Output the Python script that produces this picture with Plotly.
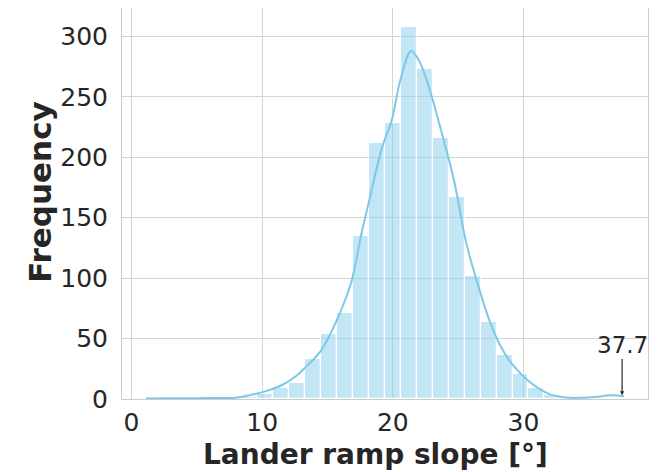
import plotly.graph_objects as go

# ---- data ----
bin_start = 1.1
bin_width = 1.22
counts = [1, 0, 0, 0, 0, 1, 2, 4, 9, 13,
          33, 54, 71, 135, 212, 228, 308, 273, 216, 167,
          102, 64, 36, 21, 9, 3, 1, 0, 0, 1]

kde_x = [1.1, 3, 5, 7, 8, 9, 10.3, 11.6, 12.6, 13.2, 14.5, 15.7, 16.8, 17.6, 18.1,
         19.2, 19.9, 20.6, 21.4, 22.0, 22.7, 23.7, 24.7, 25.6, 26.5, 27.6, 28.6,
         29.6, 30.6, 31.9, 33.2, 34.5, 35.5, 36.7, 37.7]
kde_y = [0.5, 0.6, 0.7, 0.9, 1.1, 3, 6.5, 12, 19, 25, 40, 65, 96, 137, 160,
         209, 230, 265, 288, 280, 260, 222, 180, 130, 95, 59, 37,
         23, 13, 4.5, 1.3, 1.0, 1.6, 3, 2.3]

max_value = 37.7
max_label = "37.7"

x_ticks = [0, 10, 20, 30]
y_ticks = [0, 50, 100, 150, 200, 250, 300]

x_title = "Lander ramp slope [°]"
y_title = "Frequency"

# ---- figure ----
centers = [bin_start + (i + 0.5) * bin_width for i in range(len(counts))]

fig = go.Figure()
fig.add_trace(go.Bar(
    x=centers, y=counts, width=[bin_width] * len(counts),
    marker=dict(color="rgba(135,206,235,0.5)", line=dict(color="white", width=1.2)),
    showlegend=False, hoverinfo="x+y",
))
fig.add_trace(go.Scatter(
    x=kde_x, y=kde_y, mode="lines",
    line=dict(color="rgb(125,200,232)", width=2, shape="spline", smoothing=1.0),
    showlegend=False,
))

fig.add_annotation(
    x=max_value, y=3, xref="x", yref="y",
    ax=max_value, ay=45, axref="x", ayref="y",
    text=max_label, showarrow=True,
    arrowhead=2, arrowsize=0.7, arrowwidth=1.2, arrowcolor="#262626",
    font=dict(family="DejaVu Sans", size=23, color="#262626"),
    xshift=-2,
)

# axis titles as annotations (placed like the reference)
fig.add_annotation(
    x=-0.156, y=0.53, xref="paper", yref="paper",
    text=f"<b>{y_title}</b>", showarrow=False, textangle=-90,
    xanchor="center", yanchor="middle", borderpad=0,
    font=dict(family="DejaVu Sans", size=31, color="#262626"),
)
fig.add_annotation(
    x=0.481, y=-0.143, xref="paper", yref="paper",
    text=f"<b>{x_title}</b>", showarrow=False,
    xanchor="center", yanchor="middle", borderpad=0,
    font=dict(family="DejaVu Sans", size=28, color="#262626"),
)

axis_common = dict(
    showgrid=True, gridcolor="#d5d5d5", gridwidth=1,
    showline=True, linecolor="#cccccc", linewidth=1, mirror=True,
    zeroline=False,
    tickfont=dict(family="DejaVu Sans", size=25, color="#262626"),
    ticks="",
    automargin=False,
)

fig.update_xaxes(
    range=[-0.73, 39.53], tickvals=x_ticks,
    ticklabelstandoff=1,
    **axis_common,
)
fig.update_yaxes(
    range=[0, 323.5], tickvals=y_ticks,
    ticklabelstandoff=8,
    **axis_common,
)

# page body adds an 8px offset; size the figure so the plot area lands where the reference has it
fig.update_layout(
    width=661, height=464,
    margin=dict(l=114, r=21, t=0, b=73),
    plot_bgcolor="white", paper_bgcolor="white",
    bargap=0,
    font=dict(family="DejaVu Sans", color="#262626"),
)

fig.write_html("out.html")
